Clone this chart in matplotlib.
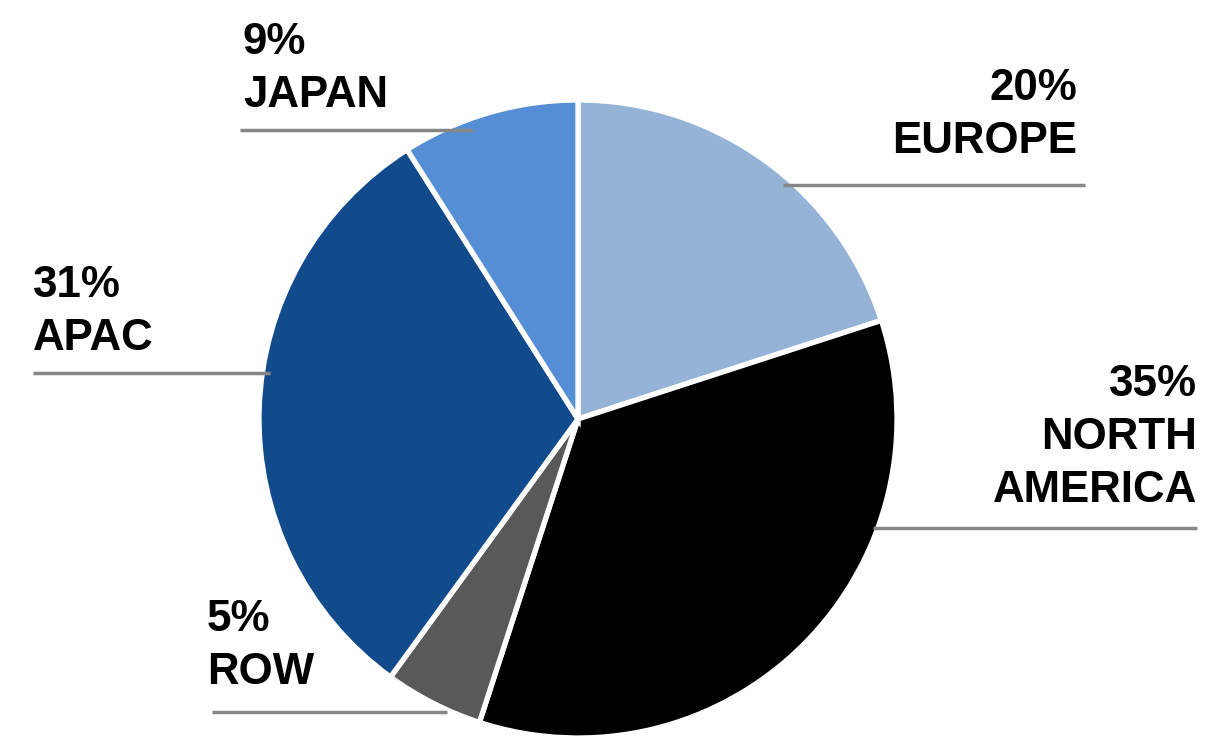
import matplotlib.pyplot as plt

regions = ["EUROPE", "NORTH\nAMERICA", "ROW", "APAC", "JAPAN"]
shares = [20, 35, 5, 31, 9]
colors = ["#95b3d7", "#000000", "#595959", "#124b8b", "#558ed5"]

# label layout in pixel coords (y measured from the top):
# text x, alignment, first baseline, leader line x0, x1, y
label_pos = {
    "EUROPE": (1077, "right", 100, 783, 1085, 185),
    "NORTH\nAMERICA": (1197, "right", 396, 873, 1197, 528),
    "ROW": (207, "left", 631, 212, 447, 712),
    "APAC": (33, "left", 297, 33, 270, 373),
    "JAPAN": (243, "left", 54, 240, 473, 130),
}

W, H = 1216, 740
plt.rcParams["font.family"] = ["Liberation Sans", "DejaVu Sans"]

fig = plt.figure(figsize=(W / 100, H / 100), dpi=100)
ax = fig.add_axes([0, 0, 1, 1])
ax.set_xlim(0, W)
ax.set_ylim(0, H)
ax.set_aspect("equal")
ax.axis("off")

ax.pie(shares, colors=colors, startangle=90, counterclock=False,
       center=(578, H - 419), radius=319,
       wedgeprops=dict(edgecolor="white", linewidth=3.8))

step = 53
for name, share in zip(regions, shares):
    tx, ha, base, x0, x1, ly = label_pos[name]
    lines = [f"{share}%"] + name.split("\n")
    for i, line in enumerate(lines):
        ax.text(tx, H - (base + i * step), line, ha=ha, va="baseline",
                fontsize=31.6, fontweight="bold", color="black")
    ax.plot([x0, x1], [H - ly, H - ly], color="#878787", linewidth=2.5,
            solid_capstyle="butt", zorder=5)

ax.set_xlim(0, W)
ax.set_ylim(0, H)
fig.savefig("out.png", dpi=100)
